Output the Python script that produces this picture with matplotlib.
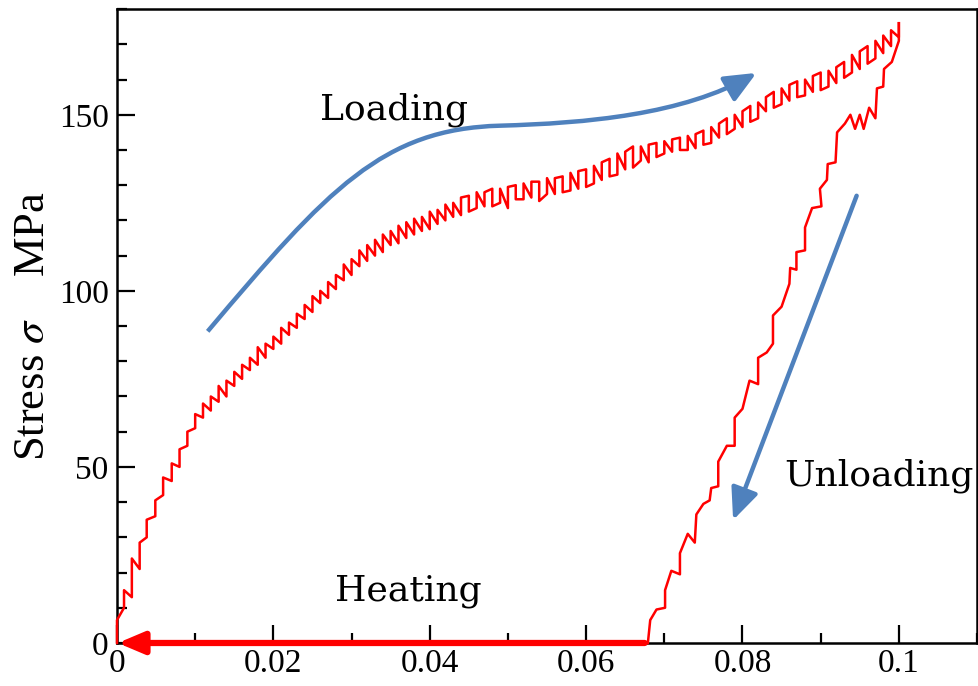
import matplotlib
matplotlib.use("Agg")
import matplotlib.pyplot as plt
from matplotlib.patches import FancyArrowPatch
from matplotlib.path import Path
from matplotlib.ticker import MultipleLocator

# ---------------- data ----------------
# Loading branch: at each strain step a vertical serration runs from
# load_stress_start to load_stress_end
load_strain = [0.0000, 0.0009, 0.0019, 0.0029, 0.0038, 0.0049, 0.0059, 0.0070, 0.0080, 0.0090,
               0.010, 0.011, 0.012, 0.013, 0.014, 0.015, 0.016, 0.017, 0.018, 0.019,
               0.020, 0.021, 0.022, 0.023, 0.024, 0.025, 0.026, 0.027, 0.028, 0.029,
               0.030, 0.031, 0.032, 0.033, 0.034, 0.035, 0.036, 0.037, 0.038, 0.039,
               0.040, 0.041, 0.042, 0.043, 0.044, 0.045, 0.046, 0.047, 0.048, 0.049,
               0.050, 0.051, 0.052, 0.053, 0.054, 0.055, 0.056, 0.057, 0.058, 0.059,
               0.060, 0.061, 0.062, 0.063, 0.064, 0.065, 0.066, 0.067, 0.068, 0.069,
               0.070, 0.071, 0.072, 0.073, 0.074, 0.075, 0.076, 0.077, 0.078, 0.079,
               0.080, 0.081, 0.082, 0.083, 0.084, 0.085, 0.086, 0.087, 0.088, 0.089,
               0.090, 0.091, 0.092, 0.093, 0.094, 0.095, 0.096, 0.097, 0.098, 0.099,
               0.100]
load_stress_start = [0, 10, 13, 21, 30, 36, 42, 46, 50, 56,
                     61, 64, 66, 68.5, 70, 73, 75, 77.5, 79, 81,
                     83.5, 85, 87.5, 89.5, 92, 94, 96.5, 98, 100.5, 103,
                     104.5, 107, 108.5, 110, 111, 113, 113.5, 115, 116, 117,
                     117.5, 119, 120, 121, 121.5, 127, 123.5, 124, 129, 125,
                     123.5, 130, 126, 126.5, 131, 127.5, 127.5, 132.5, 128.5, 129,
                     134.5, 130.5, 131.5, 137.5, 133, 134.5, 141, 137, 136.5, 142,
                     139, 139.5, 143.5, 140, 140.5, 145.5, 142, 143.5, 149, 146,
                     146.5, 152.5, 149, 151, 156.5, 153, 154, 159.5, 155.5, 156.5,
                     162, 158, 159, 165, 162, 163, 169.5, 166, 167.5, 169.5,
                     172]
load_stress_end = [6.5, 15, 24, 28.5, 35, 40.5, 47, 51, 55, 60,
                   65, 68, 70, 73, 74.5, 77, 79, 81, 84, 85,
                   87, 89.5, 91, 93.5, 96, 98.5, 100, 102.5, 104.5, 107.5,
                   109, 111.5, 113, 114.5, 116, 117, 118.5, 119.5, 120.5, 121,
                   122.5, 123, 124.5, 125, 126.5, 122.5, 128, 128, 124, 129,
                   129.5, 126, 130.5, 131, 125.5, 132, 132, 128, 133.5, 134,
                   129.5, 135.5, 136.5, 132.5, 139, 139.5, 135, 141, 141.5, 138,
                   142.5, 143, 140, 144, 144.5, 141.5, 146.5, 147.5, 144.5, 150,
                   151, 148, 153.5, 155, 152, 157.5, 158.5, 155, 160, 161,
                   157, 162.5, 163.5, 160.5, 167, 168, 164.5, 171, 172.5, 174,
                   176]

# Unloading branch (traced vertex by vertex)
unload_strain = [0.1000, 0.1000, 0.0991, 0.0981, 0.0980, 0.0972, 0.0970, 0.0962, 0.0955, 0.0950,
                 0.0944, 0.0938, 0.0931, 0.0921, 0.0919, 0.0909, 0.0908, 0.0899, 0.0901, 0.0889,
                 0.0880, 0.0880, 0.0869, 0.0869, 0.0861, 0.0860, 0.0850, 0.0839, 0.0839, 0.0831,
                 0.0820, 0.0820, 0.0809, 0.0800, 0.0790, 0.0790, 0.0780, 0.0769, 0.0769, 0.0760,
                 0.0758, 0.0750, 0.0741, 0.0739, 0.0730, 0.0720, 0.0720, 0.0709, 0.0701, 0.0701,
                 0.0690, 0.0682, 0.0679]
unload_stress = [176, 171, 165, 163, 158, 157.5, 149, 152, 146, 150,
                 146, 150, 147.5, 145, 136.5, 136, 131.5, 129, 124, 123.5,
                 118, 111.5, 111, 106, 106.5, 102, 95.5, 93, 85, 82.5,
                 81, 73.5, 74.5, 66.5, 64, 56, 56, 51.5, 44.5, 44,
                 40.5, 39.5, 36.5, 28.5, 31, 25.5, 19.5, 20.5, 15, 10,
                 9.5, 6.5, 0]

# Heating arrow (strain recovery at zero stress)
heat_strain = [0.0675, 0.0001]
heat_stress = [0, 0]

# Guide arrows: loading arrow as two cubic Bezier pieces (control points)
loading_arrow_x = [0.0116, 0.0270, 0.0340, 0.0490, 0.0600, 0.0724, 0.0818]
loading_arrow_y = [88.5, 129.0, 146.0, 146.9, 147.6, 150.0, 161.9]
unloading_arrow_x = [0.0946, 0.0788]
unloading_arrow_y = [127.0, 34.9]

x_ticks = [0, 0.02, 0.04, 0.06, 0.08, 0.1]
x_tick_labels = ["0", "0.02", "0.04", "0.06", "0.08", "0.1"]
y_ticks = [0, 50, 100, 150]
y_tick_labels = ["0", "50", "100", "150"]

# ---------------- plot ----------------
plt.rcParams["mathtext.fontset"] = "stix"
plt.rcParams["font.family"] = ["Liberation Serif", "DejaVu Serif"]

RED = "#FF0000"
BLUE = "#4F81BD"

fig = plt.figure(figsize=(9.79, 6.86), dpi=100)
ax = fig.add_axes([0.1195, 0.0627, 0.8785, 0.924])

# loading path
lx, ly = [], []
for s, a, b in zip(load_strain, load_stress_start, load_stress_end):
    lx += [s, s]
    ly += [a, b]
ax.plot(lx, ly, color=RED, lw=1.8, clip_on=False, zorder=3)
ax.plot(unload_strain, unload_stress, color=RED, lw=1.8, clip_on=False, zorder=3)

# heating arrow
ax.annotate("", xy=(heat_strain[1], heat_stress[1]), xytext=(heat_strain[0], heat_stress[0]),
            arrowprops=dict(arrowstyle="-|>,head_length=1.3,head_width=0.55", mutation_scale=12,
                            color=RED, lw=4.5, shrinkA=0, shrinkB=0, clip_on=False),
            annotation_clip=False, zorder=5)

# loading guide arrow (smooth curve)
codes = [Path.MOVETO] + [Path.CURVE4] * 6
la = FancyArrowPatch(path=Path(list(zip(loading_arrow_x, loading_arrow_y)), codes),
                     arrowstyle="-|>,head_length=1.6,head_width=0.7", mutation_scale=12,
                     color=BLUE, lw=3.2, joinstyle="round", capstyle="butt", zorder=4)
ax.add_patch(la)

# unloading guide arrow
ax.annotate("", xy=(unloading_arrow_x[1], unloading_arrow_y[1]),
            xytext=(unloading_arrow_x[0], unloading_arrow_y[0]),
            arrowprops=dict(arrowstyle="-|>,head_length=1.6,head_width=0.7", mutation_scale=12,
                            color=BLUE, lw=3.2, shrinkA=0, shrinkB=0), zorder=4)

# text annotations
tfont = dict(family=["DejaVu Serif"], fontsize=26, color="black")
ax.text(0.0260, 148.6, "Loading", ha="left", va="baseline", **tfont)
ax.text(0.0854, 44.8, "Unloading", ha="left", va="baseline", **tfont)
ax.text(0.0279, 12.2, "Heating", ha="left", va="baseline", **tfont)

ax.set_xlim(0, 0.11)
ax.set_ylim(0, 180)
ax.set_xticks(x_ticks)
ax.set_xticklabels(x_tick_labels)
ax.set_yticks(y_ticks)
ax.set_yticklabels(y_tick_labels)
ax.xaxis.set_minor_locator(MultipleLocator(0.01))
ax.yaxis.set_minor_locator(MultipleLocator(10))
ax.tick_params(which="both", direction="in", top=False, right=False, width=1.6, labelsize=24)
ax.tick_params(which="major", length=13)
ax.tick_params(which="minor", length=7)
ax.tick_params(axis="y", which="both", pad=6)
ax.tick_params(axis="x", which="both", pad=4)
for sp in ax.spines.values():
    sp.set_linewidth(1.8)

ax.set_ylabel("Stress $\\sigma$    MPa", fontsize=32, labelpad=4)

fig.savefig("out.png", dpi=100)
